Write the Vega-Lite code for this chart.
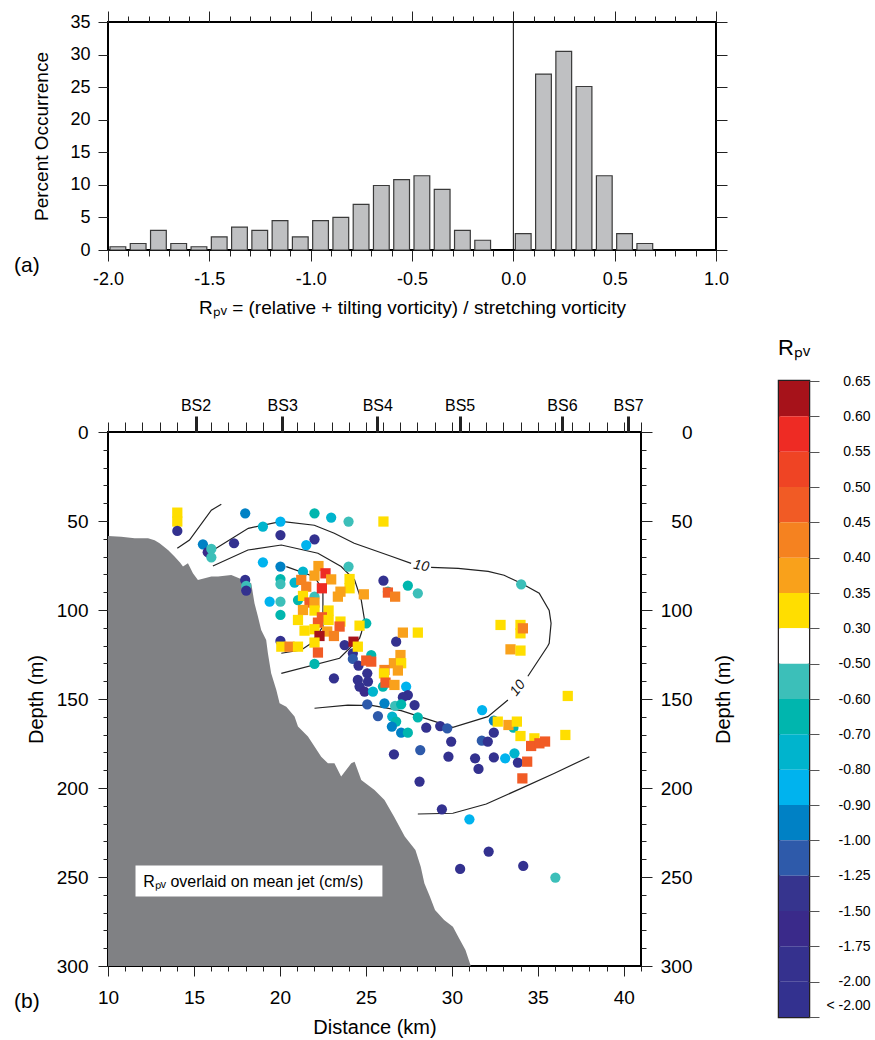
{
  "$schema": "https://vega.github.io/schema/vega-lite/v6.json",
  "padding": {"left": 13, "top": 9, "right": 0, "bottom": 0},
  "bounds": "flush",
  "spacing": 131,
  "datasets": {
    "hist": [
      {"lo": -2.0, "hi": -1.9, "p": 0.5},
      {"lo": -1.9, "hi": -1.8, "p": 1.0},
      {"lo": -1.8, "hi": -1.7, "p": 3.0},
      {"lo": -1.7, "hi": -1.6, "p": 1.0},
      {"lo": -1.6, "hi": -1.5, "p": 0.5},
      {"lo": -1.5, "hi": -1.4, "p": 2.0},
      {"lo": -1.4, "hi": -1.3, "p": 3.5},
      {"lo": -1.3, "hi": -1.2, "p": 3.0},
      {"lo": -1.2, "hi": -1.1, "p": 4.5},
      {"lo": -1.1, "hi": -1.0, "p": 2.0},
      {"lo": -1.0, "hi": -0.9, "p": 4.5},
      {"lo": -0.9, "hi": -0.8, "p": 5.0},
      {"lo": -0.8, "hi": -0.7, "p": 7.0},
      {"lo": -0.7, "hi": -0.6, "p": 9.9},
      {"lo": -0.6, "hi": -0.5, "p": 10.8},
      {"lo": -0.5, "hi": -0.4, "p": 11.4},
      {"lo": -0.4, "hi": -0.3, "p": 9.3},
      {"lo": -0.3, "hi": -0.2, "p": 3.0},
      {"lo": -0.2, "hi": -0.1, "p": 1.5},
      {"lo": 0.0, "hi": 0.1, "p": 2.5},
      {"lo": 0.1, "hi": 0.2, "p": 27.0},
      {"lo": 0.2, "hi": 0.3, "p": 30.5},
      {"lo": 0.3, "hi": 0.4, "p": 25.1},
      {"lo": 0.4, "hi": 0.5, "p": 11.4},
      {"lo": 0.5, "hi": 0.6, "p": 2.5},
      {"lo": 0.6, "hi": 0.7, "p": 1.0}
    ],
    "bathy": [
      {"x": 10.0, "d": 58.4}, {"x": 10.77, "d": 58.8}, {"x": 11.55, "d": 59.7}, {"x": 12.33, "d": 59.7},
      {"x": 12.71, "d": 60.8}, {"x": 13.0, "d": 62.5}, {"x": 13.49, "d": 66.3}, {"x": 13.87, "d": 70.0},
      {"x": 14.2, "d": 73.5}, {"x": 14.36, "d": 75.6}, {"x": 14.65, "d": 73.8}, {"x": 14.94, "d": 79.4},
      {"x": 15.23, "d": 83.1}, {"x": 16.01, "d": 81.2}, {"x": 16.4, "d": 81.2}, {"x": 17.17, "d": 80.3},
      {"x": 18.33, "d": 85.0}, {"x": 18.52, "d": 96.2}, {"x": 18.72, "d": 103.7}, {"x": 18.91, "d": 111.2},
      {"x": 19.2, "d": 116.9}, {"x": 19.3, "d": 124.3}, {"x": 19.49, "d": 135.6}, {"x": 19.79, "d": 144.9},
      {"x": 19.98, "d": 152.4}, {"x": 20.37, "d": 154.3}, {"x": 20.85, "d": 159.9}, {"x": 21.05, "d": 165.5},
      {"x": 21.63, "d": 171.1}, {"x": 22.01, "d": 176.7}, {"x": 22.4, "d": 182.4}, {"x": 22.79, "d": 186.1},
      {"x": 23.17, "d": 186.1}, {"x": 23.56, "d": 193.6}, {"x": 24.15, "d": 186.1}, {"x": 24.34, "d": 185.2},
      {"x": 24.73, "d": 195.5}, {"x": 24.98, "d": 197.4}, {"x": 25.5, "d": 201.1}, {"x": 26.08, "d": 206.7},
      {"x": 26.64, "d": 216.1}, {"x": 27.26, "d": 227.3}, {"x": 27.88, "d": 234.8}, {"x": 28.19, "d": 244.2},
      {"x": 28.4, "d": 253.5}, {"x": 28.72, "d": 261.0}, {"x": 29.02, "d": 268.5}, {"x": 29.55, "d": 274.2},
      {"x": 30.06, "d": 277.9}, {"x": 30.37, "d": 283.5}, {"x": 30.79, "d": 291.0}, {"x": 31.1, "d": 300.0}
    ],
    "contours": [
      {"id": "A", "k": 0, "x": 14.03, "d": 65.3}, {"id": "A", "k": 1, "x": 14.74, "d": 60.7},
      {"id": "A", "k": 2, "x": 16.01, "d": 43.9}, {"id": "A", "k": 3, "x": 16.59, "d": 40.6},
      {"id": "B1", "k": 0, "x": 16.01, "d": 67.0}, {"id": "B1", "k": 1, "x": 18.16, "d": 54.1},
      {"id": "B1", "k": 2, "x": 20.08, "d": 50.2}, {"id": "B1", "k": 3, "x": 22.0, "d": 52.4},
      {"id": "B1", "k": 4, "x": 23.16, "d": 56.9}, {"id": "B1", "k": 5, "x": 24.32, "d": 62.5},
      {"id": "B1", "k": 6, "x": 26.47, "d": 69.8}, {"id": "B1", "k": 7, "x": 27.63, "d": 73.8},
      {"id": "B2", "k": 0, "x": 28.79, "d": 76.0}, {"id": "B2", "k": 1, "x": 30.37, "d": 76.6},
      {"id": "B2", "k": 2, "x": 32.11, "d": 78.3}, {"id": "B2", "k": 3, "x": 33.04, "d": 80.5},
      {"id": "B2", "k": 4, "x": 34.03, "d": 85.0}, {"id": "B2", "k": 5, "x": 35.08, "d": 90.6},
      {"id": "B2", "k": 6, "x": 35.66, "d": 100.2}, {"id": "B2", "k": 7, "x": 35.77, "d": 107.5},
      {"id": "B2", "k": 8, "x": 35.66, "d": 118.7}, {"id": "B2", "k": 9, "x": 35.57, "d": 120.4},
      {"id": "B2", "k": 10, "x": 34.42, "d": 137.2},
      {"id": "B3", "k": 0, "x": 33.26, "d": 150.6}, {"id": "B3", "k": 1, "x": 32.09, "d": 159.9},
      {"id": "B3", "k": 2, "x": 30.06, "d": 165.9}, {"id": "B3", "k": 3, "x": 27.05, "d": 156.5},
      {"id": "B3", "k": 4, "x": 25.41, "d": 153.7}, {"id": "B3", "k": 5, "x": 23.95, "d": 153.4},
      {"id": "B3", "k": 6, "x": 22.01, "d": 155.2},
      {"id": "C", "k": 0, "x": 16.1, "d": 75.3}, {"id": "C", "k": 1, "x": 18.14, "d": 66.3},
      {"id": "C", "k": 2, "x": 20.08, "d": 63.5}, {"id": "C", "k": 3, "x": 22.21, "d": 68.1},
      {"id": "C", "k": 4, "x": 23.56, "d": 75.6}, {"id": "C", "k": 5, "x": 24.34, "d": 83.1},
      {"id": "C", "k": 6, "x": 24.73, "d": 94.4}, {"id": "C", "k": 7, "x": 24.92, "d": 105.6},
      {"id": "C", "k": 8, "x": 24.73, "d": 113.1}, {"id": "C", "k": 9, "x": 24.63, "d": 115.9},
      {"id": "C", "k": 10, "x": 23.47, "d": 127.1}, {"id": "C", "k": 11, "x": 20.08, "d": 135.6},
      {"id": "D", "k": 0, "x": 20.37, "d": 75.6}, {"id": "D", "k": 1, "x": 22.01, "d": 81.3},
      {"id": "D", "k": 2, "x": 22.5, "d": 88.8}, {"id": "D", "k": 3, "x": 22.5, "d": 109.3},
      {"id": "D", "k": 4, "x": 21.82, "d": 118.7}, {"id": "D", "k": 5, "x": 21.24, "d": 122.5},
      {"id": "D", "k": 6, "x": 20.08, "d": 124.3},
      {"id": "E", "k": 0, "x": 28.02, "d": 214.6}, {"id": "E", "k": 1, "x": 30.06, "d": 214.2},
      {"id": "E", "k": 2, "x": 32.0, "d": 209.0}, {"id": "E", "k": 3, "x": 34.03, "d": 200.2},
      {"id": "E", "k": 4, "x": 35.97, "d": 191.7}, {"id": "E", "k": 5, "x": 38.0, "d": 182.4}
    ],
    "clabels": [
      {"x": 28.22, "d": 75.3, "t": "10", "a": 11},
      {"x": 33.84, "d": 143.9, "t": "10", "a": -52}
    ],
    "note": [
      {"x": 11.6, "x2": 25.96, "d": 243.6, "d2": 261.0, "tx": 12.05, "td": 252.6, "t": "Rₚᵥ overlaid on mean jet (cm/s)"}
    ],
    "pts": [
      {"x": 14.03, "d": 45.3, "r": 0.32}, {"x": 14.03, "d": 50.3, "r": 0.32},
      {"x": 14.03, "d": 55.6, "r": -2.2}, {"x": 17.98, "d": 45.7, "r": -0.95}, {"x": 19.01, "d": 53.1, "r": -0.75},
      {"x": 20.03, "d": 50.3, "r": -0.85}, {"x": 20.03, "d": 57.9, "r": -2.2}, {"x": 22.01, "d": 45.7, "r": -0.65},
      {"x": 22.98, "d": 48.1, "r": -0.75}, {"x": 23.99, "d": 50.3, "r": -0.55}, {"x": 15.52, "d": 63.1, "r": -0.95},
      {"x": 15.8, "d": 67.5, "r": -1.6}, {"x": 16.01, "d": 65.7, "r": -0.55}, {"x": 16.01, "d": 70.4, "r": -0.55},
      {"x": 17.33, "d": 62.5, "r": -2.2}, {"x": 22.01, "d": 60.3, "r": -2.2}, {"x": 21.53, "d": 63.5, "r": -0.85},
      {"x": 19.01, "d": 73.2, "r": -0.85}, {"x": 20.03, "d": 75.6, "r": -0.95}, {"x": 21.34, "d": 78.4, "r": -0.75},
      {"x": 23.99, "d": 75.6, "r": -0.55}, {"x": 17.98, "d": 83.1, "r": -2.2}, {"x": 18.04, "d": 86.5, "r": -0.55},
      {"x": 18.04, "d": 89.1, "r": -2.2}, {"x": 20.03, "d": 82.6, "r": -0.65}, {"x": 20.03, "d": 85.4, "r": -0.55},
      {"x": 20.85, "d": 84.6, "r": -0.75}, {"x": 19.4, "d": 95.3, "r": -0.85}, {"x": 20.03, "d": 95.3, "r": -0.55},
      {"x": 20.03, "d": 102.8, "r": -0.65}, {"x": 21.05, "d": 94.4, "r": -0.65}, {"x": 22.01, "d": 92.5, "r": -0.55},
      {"x": 25.02, "d": 107.5, "r": -0.65}, {"x": 20.03, "d": 117.4, "r": -2.2}, {"x": 23.76, "d": 119.7, "r": -2.2},
      {"x": 24.24, "d": 124.3, "r": -2.2}, {"x": 26.76, "d": 117.8, "r": -2.2}, {"x": 26.02, "d": 83.5, "r": -2.2},
      {"x": 27.44, "d": 86.3, "r": -0.65}, {"x": 28.02, "d": 90.6, "r": -0.55}, {"x": 26.28, "d": 89.7, "r": -0.65},
      {"x": 34.03, "d": 85.6, "r": -0.55}, {"x": 22.01, "d": 130.3, "r": -0.65}, {"x": 23.14, "d": 138.4, "r": -2.2},
      {"x": 25.31, "d": 125.3, "r": -0.65}, {"x": 24.24, "d": 127.5, "r": -1.1}, {"x": 24.57, "d": 131.2, "r": -2.2},
      {"x": 25.08, "d": 135.6, "r": -2.2}, {"x": 24.53, "d": 139.3, "r": -2.2}, {"x": 25.12, "d": 140.2, "r": -2.2},
      {"x": 24.63, "d": 143.0, "r": -2.2}, {"x": 24.92, "d": 145.8, "r": -1.6}, {"x": 25.41, "d": 145.8, "r": -0.75},
      {"x": 25.99, "d": 143.0, "r": -0.65}, {"x": 27.34, "d": 143.0, "r": -0.85}, {"x": 27.44, "d": 147.8, "r": -2.2},
      {"x": 27.15, "d": 149.0, "r": -2.2}, {"x": 27.83, "d": 153.4, "r": -2.2}, {"x": 25.08, "d": 153.0, "r": -1.1},
      {"x": 26.08, "d": 152.4, "r": -0.95}, {"x": 26.7, "d": 153.9, "r": -0.55}, {"x": 27.05, "d": 153.0, "r": -0.65},
      {"x": 25.7, "d": 159.6, "r": -1.1}, {"x": 26.53, "d": 159.9, "r": -0.75}, {"x": 28.02, "d": 160.3, "r": -0.65},
      {"x": 26.76, "d": 162.7, "r": -0.65}, {"x": 26.51, "d": 165.5, "r": -0.95}, {"x": 27.05, "d": 168.9, "r": -0.95},
      {"x": 27.44, "d": 168.9, "r": -0.65}, {"x": 28.51, "d": 166.1, "r": -2.2}, {"x": 29.32, "d": 165.2, "r": -2.2},
      {"x": 29.73, "d": 166.5, "r": -1.1}, {"x": 29.96, "d": 173.9, "r": -2.2}, {"x": 26.63, "d": 181.1, "r": -2.2},
      {"x": 28.16, "d": 178.7, "r": -1.1}, {"x": 29.8, "d": 182.4, "r": -2.2}, {"x": 31.35, "d": 183.3, "r": -2.2},
      {"x": 31.55, "d": 189.3, "r": -2.2}, {"x": 32.44, "d": 182.8, "r": -2.2}, {"x": 33.1, "d": 183.3, "r": -0.85},
      {"x": 33.64, "d": 180.5, "r": -0.75}, {"x": 33.84, "d": 185.7, "r": -2.2}, {"x": 28.12, "d": 196.4, "r": -2.2},
      {"x": 29.42, "d": 212.0, "r": -2.2}, {"x": 31.02, "d": 217.6, "r": -0.85}, {"x": 31.76, "d": 156.2, "r": -0.85},
      {"x": 32.44, "d": 162.1, "r": -0.95}, {"x": 32.44, "d": 168.9, "r": -2.2}, {"x": 31.74, "d": 173.4, "r": -1.1},
      {"x": 32.09, "d": 173.9, "r": -2.2}, {"x": 33.58, "d": 166.1, "r": -0.65}, {"x": 32.14, "d": 235.7, "r": -2.2},
      {"x": 30.48, "d": 245.5, "r": -2.2}, {"x": 34.15, "d": 243.8, "r": -2.2}, {"x": 36.02, "d": 250.3, "r": -0.55},
      {"x": 22.24, "d": 75.3, "r": 0.37}, {"x": 22.01, "d": 80.7, "r": 0.37}, {"x": 22.65, "d": 79.4, "r": 0.57},
      {"x": 22.98, "d": 82.8, "r": 0.37}, {"x": 21.24, "d": 83.1, "r": 0.42}, {"x": 24.05, "d": 82.6, "r": 0.32},
      {"x": 21.53, "d": 86.9, "r": 0.42}, {"x": 22.44, "d": 87.8, "r": 0.57}, {"x": 24.05, "d": 87.8, "r": 0.32},
      {"x": 23.37, "d": 92.5, "r": 0.37}, {"x": 23.52, "d": 89.7, "r": 0.37}, {"x": 24.88, "d": 91.2, "r": 0.37},
      {"x": 21.34, "d": 92.1, "r": 0.32}, {"x": 21.72, "d": 95.8, "r": 0.47}, {"x": 22.01, "d": 95.8, "r": 0.37},
      {"x": 21.34, "d": 100.0, "r": 0.37}, {"x": 22.01, "d": 100.3, "r": 0.32}, {"x": 22.83, "d": 100.3, "r": 0.32},
      {"x": 22.44, "d": 104.1, "r": 0.47}, {"x": 22.21, "d": 107.1, "r": 0.47}, {"x": 21.05, "d": 105.6, "r": 0.32},
      {"x": 22.83, "d": 105.6, "r": 0.32}, {"x": 23.52, "d": 106.5, "r": 0.32}, {"x": 23.47, "d": 109.3, "r": 0.47},
      {"x": 24.63, "d": 108.8, "r": 0.32}, {"x": 21.43, "d": 111.6, "r": 0.32}, {"x": 22.01, "d": 110.8, "r": 0.32},
      {"x": 22.75, "d": 112.1, "r": 0.37}, {"x": 23.14, "d": 114.6, "r": 0.42}, {"x": 22.3, "d": 114.6, "r": 0.62},
      {"x": 22.01, "d": 118.3, "r": 0.32}, {"x": 22.21, "d": 123.9, "r": 0.47}, {"x": 20.08, "d": 120.6, "r": 0.32},
      {"x": 20.56, "d": 120.6, "r": 0.42}, {"x": 21.05, "d": 120.6, "r": 0.32}, {"x": 24.28, "d": 117.8, "r": 0.62},
      {"x": 24.53, "d": 120.6, "r": 0.32}, {"x": 26.02, "d": 50.3, "r": 0.32}, {"x": 26.28, "d": 90.2, "r": 0.47},
      {"x": 26.7, "d": 92.5, "r": 0.42}, {"x": 27.15, "d": 112.7, "r": 0.37}, {"x": 28.02, "d": 112.7, "r": 0.32},
      {"x": 25.02, "d": 128.4, "r": 0.47}, {"x": 25.31, "d": 129.0, "r": 0.47}, {"x": 27.01, "d": 125.3, "r": 0.37},
      {"x": 26.63, "d": 129.9, "r": 0.37}, {"x": 27.05, "d": 129.9, "r": 0.32}, {"x": 26.08, "d": 133.7, "r": 0.42},
      {"x": 26.05, "d": 135.6, "r": 0.32}, {"x": 26.86, "d": 134.0, "r": 0.37}, {"x": 26.14, "d": 140.8, "r": 0.47},
      {"x": 26.66, "d": 142.1, "r": 0.37}, {"x": 32.83, "d": 108.4, "r": 0.32}, {"x": 33.99, "d": 108.4, "r": 0.32},
      {"x": 33.99, "d": 113.1, "r": 0.32}, {"x": 34.13, "d": 110.3, "r": 0.42}, {"x": 33.41, "d": 122.1, "r": 0.37},
      {"x": 33.99, "d": 122.8, "r": 0.32}, {"x": 36.74, "d": 148.3, "r": 0.32}, {"x": 32.67, "d": 162.7, "r": 0.32},
      {"x": 33.29, "d": 164.6, "r": 0.37}, {"x": 33.78, "d": 162.7, "r": 0.32}, {"x": 33.99, "d": 170.8, "r": 0.32},
      {"x": 34.8, "d": 172.1, "r": 0.32}, {"x": 34.61, "d": 176.4, "r": 0.47}, {"x": 35.09, "d": 174.9, "r": 0.47},
      {"x": 35.42, "d": 173.9, "r": 0.47}, {"x": 36.6, "d": 170.2, "r": 0.32}, {"x": 34.38, "d": 185.2, "r": 0.47},
      {"x": 34.1, "d": 194.6, "r": 0.47}
    ],
    "cbar": [
      {"i": 0, "i1": 1, "r": 0.62}, {"i": 1, "i1": 2, "r": 0.57}, {"i": 2, "i1": 3, "r": 0.52},
      {"i": 3, "i1": 4, "r": 0.47}, {"i": 4, "i1": 5, "r": 0.42}, {"i": 5, "i1": 6, "r": 0.37},
      {"i": 6, "i1": 7, "r": 0.32}, {"i": 7, "i1": 8, "r": 0.0}, {"i": 8, "i1": 9, "r": -0.55},
      {"i": 9, "i1": 10, "r": -0.65}, {"i": 10, "i1": 11, "r": -0.75}, {"i": 11, "i1": 12, "r": -0.85},
      {"i": 12, "i1": 13, "r": -0.95}, {"i": 13, "i1": 14, "r": -1.1}, {"i": 14, "i1": 15, "r": -1.4},
      {"i": 15, "i1": 16, "r": -1.6}, {"i": 16, "i1": 17, "r": -1.9}, {"i": 17, "i1": 18, "r": -2.2}
    ]
  },
  "vconcat": [
    {
      "width": 608,
      "height": 228,
      "title": {"text": "(a)", "orient": "bottom", "anchor": "start", "frame": "group", "fontSize": 21, "offset": 0, "dx": -94, "dy": -62},
      "view": {"stroke": "#000", "strokeWidth": 2},
      "resolve": {"axis": {"x": "independent", "y": "independent"}},
      "layer": [
        {
          "data": {"name": "hist"},
          "mark": {"type": "bar", "fill": "#BFC0C2", "stroke": "#3a3a3a", "strokeWidth": 1.2, "xOffset": 2, "x2Offset": -2.5},
          "encoding": {
            "x": {"field": "lo", "type": "quantitative",
                  "scale": {"domain": [-2, 1], "nice": false, "zero": false},
                  "axis": {"orient": "bottom", "title": "Rₚᵥ = (relative + tilting vorticity) / stretching vorticity",
                           "values": [-2,-1.9,-1.8,-1.7,-1.6,-1.5,-1.4,-1.3,-1.2,-1.1,-1,-0.9,-0.8,-0.7,-0.6,-0.5,-0.4,-0.3,-0.2,-0.1,0,0.1,0.2,0.3,0.4,0.5,0.6,0.7,0.8,0.9,1],
                           "labelExpr": "abs(datum.value*2 - round(datum.value*2)) < 0.001 ? (datum.value < 0 ? '-' : '') + format(abs(datum.value), '.1f') : ''",
                           "tickSize": {"condition": {"test": "abs(datum.value*2 - round(datum.value*2)) < 0.001", "value": 11}, "value": 6},
                           "labelPadding": 9, "labelFontSize": 18, "titleFontSize": 19, "titlePadding": 10}},
            "x2": {"field": "hi"},
            "y": {"field": "p", "type": "quantitative",
                  "scale": {"domain": [0, 35], "nice": false},
                  "axis": {"orient": "left", "title": "Percent Occurrence", "values": [0,5,10,15,20,25,30,35],
                           "tickSize": 10, "labelPadding": 8, "labelFontSize": 18, "titleFontSize": 19, "titlePadding": 18}},
            "y2": {"datum": 0}
          }
        },
        {
          "data": {"values": [{"x0": 0, "y0": 0, "y1": 35}]},
          "mark": {"type": "rule", "stroke": "#000", "strokeWidth": 1},
          "encoding": {
            "x": {"field": "x0", "type": "quantitative",
                  "scale": {"domain": [-2, 1], "nice": false, "zero": false},
                  "axis": {"orient": "top", "title": null, "labels": false,
                           "values": [-2,-1.9,-1.8,-1.7,-1.6,-1.5,-1.4,-1.3,-1.2,-1.1,-1,-0.9,-0.8,-0.7,-0.6,-0.5,-0.4,-0.3,-0.2,-0.1,0,0.1,0.2,0.3,0.4,0.5,0.6,0.7,0.8,0.9,1],
                           "tickSize": {"condition": {"test": "abs(datum.value*2 - round(datum.value*2)) < 0.001", "value": 11}, "value": 6}}},
            "y": {"field": "y0", "type": "quantitative",
                  "scale": {"domain": [0, 35], "nice": false},
                  "axis": {"orient": "right", "title": null, "labels": false, "values": [0,5,10,15,20,25,30,35], "tickSize": 11}},
            "y2": {"field": "y1"}
          }
        }
      ]
    },
    {
      "hconcat": [
        {
          "width": 533,
          "height": 534,
          "title": {"text": "(b)", "orient": "bottom", "anchor": "start", "frame": "group", "fontSize": 21, "offset": 0, "dx": -94, "dy": -46},
          "view": {"stroke": "#000", "strokeWidth": 2},
          "resolve": {"axis": {"x": "independent", "y": "independent"}},
          "layer": [
            {
              "data": {"name": "bathy"},
              "mark": {"type": "area", "color": "#808184", "interpolate": "linear"},
              "encoding": {
                "x": {"field": "x", "type": "quantitative",
                      "scale": {"domain": [10, 41], "nice": false, "zero": false},
                      "axis": {"orient": "bottom", "title": "Distance (km)",
                               "values": [10,11,12,13,14,15,16,17,18,19,20,21,22,23,24,25,26,27,28,29,30,31,32,33,34,35,36,37,38,39,40,41],
                               "labelExpr": "datum.value % 5 == 0 ? format(datum.value, 'd') : ''",
                               "tickSize": {"condition": {"test": "datum.value % 5 == 0", "value": 10}, "value": 5},
                               "labelPadding": 12, "labelFontSize": 19, "titleFontSize": 20, "titlePadding": 10}},
                "y": {"field": "d", "type": "quantitative",
                      "scale": {"domain": [0, 300], "nice": false, "zero": false, "reverse": true},
                      "axis": {"orient": "left", "title": "Depth (m)",
                               "values": [0,10,20,30,40,50,60,70,80,90,100,110,120,130,140,150,160,170,180,190,200,210,220,230,240,250,260,270,280,290,300],
                               "labelExpr": "datum.value % 50 == 0 ? format(datum.value, 'd') : ''",
                               "tickSize": {"condition": {"test": "datum.value % 50 == 0", "value": 10}, "value": 5},
                               "labelPadding": 10, "labelFontSize": 19, "titleFontSize": 20, "titlePadding": 10}},
                "y2": {"datum": 300}
              }
            },
            {
              "data": {"name": "contours"},
              "mark": {"type": "line", "stroke": "#222", "strokeWidth": 1.2},
              "encoding": {
                "x": {"field": "x", "type": "quantitative",
                      "scale": {"domain": [10, 41], "nice": false, "zero": false},
                      "axis": {"orient": "top", "title": null,
                               "values": [10,11,12,13,14,16,17,18,19,21,22,23,24,25,26,27,28,29,30,31,32,33,34,35,36,37,38,39,40,41,15.09,20.13,25.66,30.45,36.4,40.25],
                               "labelExpr": "datum.value == 15.09 ? 'BS2' : datum.value == 20.13 ? 'BS3' : datum.value == 25.66 ? 'BS4' : datum.value == 30.45 ? 'BS5' : datum.value == 36.4 ? 'BS6' : datum.value == 40.25 ? 'BS7' : ''",
                               "tickSize": {"condition": {"test": "datum.value % 1 > 0.01", "value": 16}, "value": 10},
                               "tickWidth": {"condition": {"test": "datum.value % 1 > 0.01", "value": 3}, "value": 1},
                               "labelPadding": 3, "labelFontSize": 16}},
                "y": {"field": "d", "type": "quantitative",
                      "scale": {"domain": [0, 300], "nice": false, "zero": false, "reverse": true},
                      "axis": {"orient": "right", "title": "Depth (m)", "titleAngle": 270, "titleX": 82, "titleY": 267,
                               "titleAlign": "center", "titleBaseline": "middle",
                               "values": [0,10,20,30,40,50,60,70,80,90,100,110,120,130,140,150,160,170,180,190,200,210,220,230,240,250,260,270,280,290,300],
                               "labelExpr": "datum.value % 50 == 0 ? format(datum.value, 'd') : ''",
                               "tickSize": {"condition": {"test": "datum.value % 50 == 0", "value": 11}, "value": 5},
                               "labelAlign": "right", "labelPadding": 40, "labelFontSize": 19, "titleFontSize": 20}},
                "detail": {"field": "id", "type": "nominal"},
                "order": {"field": "k", "type": "quantitative"}
              }
            },
            {
              "data": {"name": "note"},
              "mark": {"type": "rect", "fill": "#ffffff"},
              "encoding": {
                "x": {"field": "x", "type": "quantitative", "scale": {"domain": [10, 41], "nice": false, "zero": false}, "axis": null},
                "x2": {"field": "x2"},
                "y": {"field": "d", "type": "quantitative", "scale": {"domain": [0, 300], "nice": false, "zero": false, "reverse": true}, "axis": null},
                "y2": {"field": "d2"}
              }
            },
            {
              "data": {"name": "note"},
              "mark": {"type": "text", "align": "left", "baseline": "middle", "fontSize": 16, "color": "#000"},
              "encoding": {
                "x": {"field": "tx", "type": "quantitative", "scale": {"domain": [10, 41], "nice": false, "zero": false}, "axis": null},
                "y": {"field": "td", "type": "quantitative", "scale": {"domain": [0, 300], "nice": false, "zero": false, "reverse": true}, "axis": null},
                "text": {"field": "t"}
              }
            },
            {
              "data": {"name": "pts"},
              "mark": {"type": "point", "filled": true, "opacity": 1, "size": 105, "strokeWidth": 0},
              "encoding": {
                "x": {"field": "x", "type": "quantitative", "scale": {"domain": [10, 41], "nice": false, "zero": false}, "axis": null},
                "y": {"field": "d", "type": "quantitative", "scale": {"domain": [0, 300], "nice": false, "zero": false, "reverse": true}, "axis": null},
                "color": {"field": "r", "type": "quantitative", "legend": null,
                          "scale": {"type": "threshold",
                                    "domain": [-2.0, -1.75, -1.5, -1.25, -1.0, -0.9, -0.8, -0.7, -0.6, -0.5, 0.3, 0.35, 0.4, 0.45, 0.5, 0.55, 0.6],
                                    "range": ["#33318F", "#35318E", "#3A2A8A", "#36348E", "#2E5AAA", "#0081C5", "#00B3EE", "#00B4CD", "#00B6AE", "#3CBFB9", "#FFFFFF", "#FFDE00", "#F9A11B", "#F58220", "#F15B25", "#EF4424", "#EE2B24", "#A6121A"]}},
                "shape": {"field": "r", "type": "quantitative", "legend": null,
                          "scale": {"type": "threshold", "domain": [0], "range": ["circle", "square"]}}
              }
            },
            {
              "data": {"name": "clabels"},
              "mark": {"type": "text", "fontSize": 14, "fontStyle": "italic", "baseline": "middle", "align": "center", "color": "#111"},
              "encoding": {
                "x": {"field": "x", "type": "quantitative", "scale": {"domain": [10, 41], "nice": false, "zero": false}, "axis": null},
                "y": {"field": "d", "type": "quantitative", "scale": {"domain": [0, 300], "nice": false, "zero": false, "reverse": true}, "axis": null},
                "text": {"field": "t"},
                "angle": {"field": "a", "type": "quantitative", "scale": null}
              }
            }
          ]
        },
        {
          "width": 30,
          "height": 636,
          "title": {"text": "Rₚᵥ", "fontSize": 22, "offset": 14, "anchor": "middle"},
          "view": {"stroke": "#231F20", "strokeWidth": 2.5},
          "data": {"name": "cbar"},
          "mark": {"type": "rect"},
          "encoding": {
            "y": {"field": "i", "type": "quantitative",
                  "scale": {"domain": [0, 18], "nice": false, "zero": false, "reverse": true},
                  "axis": {"orient": "right", "title": null,
                           "values": [0,1,2,3,4,5,6,7,8,9,10,11,12,13,14,15,16,17,18,17.68],
                           "labelExpr": "datum.value == 17.68 ? '< -2.00' : datum.value == 18 ? '' : ['0.65','0.60','0.55','0.50','0.45','0.40','0.35','0.30','-0.50','-0.60','-0.70','-0.80','-0.90','-1.00','-1.25','-1.50','-1.75','-2.00'][datum.value]",
                           "tickSize": 10, "tickColor": "#555",
                           "tickOpacity": {"condition": {"test": "datum.value == 17.68", "value": 0}, "value": 1},
                           "labelAlign": "right", "labelPadding": 51, "labelFontSize": 14}},
            "y2": {"field": "i1"},
            "color": {"field": "r", "type": "quantitative", "legend": null,
                      "scale": {"type": "threshold",
                                "domain": [-2.0, -1.75, -1.5, -1.25, -1.0, -0.9, -0.8, -0.7, -0.6, -0.5, 0.3, 0.35, 0.4, 0.45, 0.5, 0.55, 0.6],
                                "range": ["#33318F", "#35318E", "#3A2A8A", "#36348E", "#2E5AAA", "#0081C5", "#00B3EE", "#00B4CD", "#00B6AE", "#3CBFB9", "#FFFFFF", "#FFDE00", "#F9A11B", "#F58220", "#F15B25", "#EF4424", "#EE2B24", "#A6121A"]}}
          }
        }
      ],
      "bounds": "flush",
      "center": true,
      "spacing": 138
    }
  ],
  "config": {
    "font": "Liberation Sans",
    "axis": {"domain": false, "grid": false, "labelColor": "#000", "titleColor": "#000", "tickColor": "#222",
             "titleFontWeight": "normal", "labelOverlap": false, "labelFlush": false, "labelBound": false},
    "title": {"fontWeight": "normal", "color": "#000"},
    "view": {"stroke": "#000", "strokeWidth": 2}
  }
}
